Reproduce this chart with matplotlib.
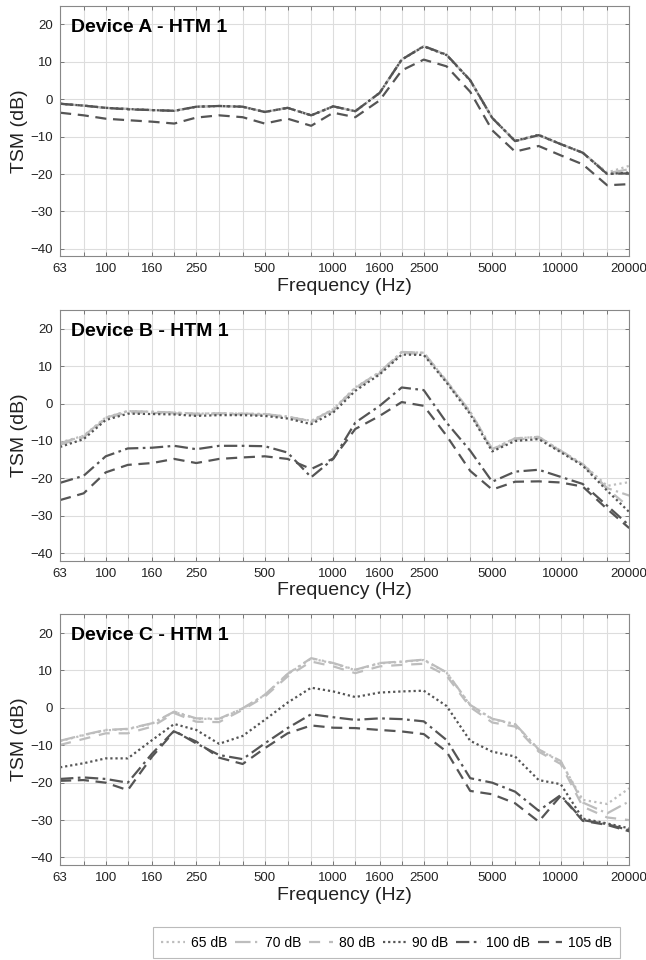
import numpy as np
import matplotlib

matplotlib.use("Agg")
import matplotlib.pyplot as plt

plt.rcParams["font.family"] = ["Liberation Sans", "DejaVu Sans"]

# third-octave band centre frequencies (Hz)
freqs = [63, 80, 100, 125, 160, 200, 250, 315, 400, 500, 630, 800, 1000,
         1250, 1600, 2000, 2500, 3150, 4000, 5000, 6300, 8000, 10000,
         12500, 16000, 20000]
tick_labels = [63, 100, 160, 250, 500, 1000, 1600, 2500, 5000, 10000, 20000]
levels = ["65 dB", "70 dB", "80 dB", "90 dB", "100 dB", "105 dB"]

# Device A
a_65 = [-1.2, -1.7, -2.3, -2.6, -2.9, -3.1, -2.0, -1.8, -2.0, -3.4, -2.3, -4.3, -1.9,
        -3.2, 1.7, 10.6, 14.2, 11.9, 5.1, -5.0, -11.2, -9.6, -12.0, -14.3, -19.6, -17.8]
a_70 = [-1.2, -1.7, -2.3, -2.6, -2.9, -3.1, -2.0, -1.8, -2.0, -3.4, -2.3, -4.3, -1.9,
        -3.2, 1.7, 10.6, 14.2, 11.9, 5.1, -5.0, -11.2, -9.6, -12.0, -14.3, -19.8, -18.7]
a_80 = [-1.2, -1.7, -2.3, -2.6, -2.9, -3.1, -2.0, -1.8, -2.0, -3.4, -2.3, -4.3, -1.9,
        -3.2, 1.7, 10.6, 14.2, 11.9, 5.1, -5.0, -11.2, -9.6, -12.0, -14.3, -20.0, -19.3]
a_90 = [-1.2, -1.7, -2.3, -2.6, -2.9, -3.1, -2.0, -1.8, -2.0, -3.4, -2.3, -4.3, -1.9,
        -3.2, 1.7, 10.6, 14.1, 11.8, 5.0, -5.0, -11.1, -9.5, -12.0, -14.3, -20.0, -19.6]
a_100 = [-1.2, -1.7, -2.3, -2.7, -2.9, -3.1, -2.0, -1.8, -2.0, -3.4, -2.3, -4.3, -1.9,
         -3.2, 1.7, 10.6, 14.2, 11.9, 5.1, -5.0, -11.2, -9.6, -12.0, -14.3, -20.0, -19.8]
a_105 = [-3.6, -4.3, -5.2, -5.6, -6.0, -6.5, -4.9, -4.3, -4.8, -6.5, -5.2, -7.1, -3.6,
         -4.8, -0.3, 7.7, 10.6, 8.8, 2.0, -8.3, -14.0, -12.5, -15.0, -17.4, -23.0, -22.7]

# Device B
b_65 = [-10.4, -8.6, -3.7, -2.0, -2.2, -2.4, -2.7, -2.6, -2.7, -2.8, -3.5, -4.6, -1.5,
        4.3, 8.4, 13.8, 13.6, 6.0, -2.2, -12.2, -9.3, -8.9, -12.6, -16.2, -22.0, -21.0]
b_70 = [-10.6, -8.7, -3.8, -2.0, -2.2, -2.4, -2.7, -2.6, -2.7, -2.8, -3.5, -4.7, -1.6,
        4.2, 8.4, 13.8, 13.6, 6.0, -2.2, -12.2, -9.3, -8.9, -12.6, -16.2, -22.6, -24.6]
b_80 = [-11.0, -9.0, -4.0, -2.3, -2.5, -2.6, -3.0, -2.8, -2.9, -3.0, -3.7, -5.0, -2.0,
        3.9, 8.1, 13.5, 13.3, 5.8, -2.5, -12.5, -9.6, -9.2, -12.8, -16.4, -22.8, -27.7]
b_90 = [-11.6, -9.5, -4.4, -2.7, -2.8, -2.9, -3.3, -3.1, -3.1, -3.3, -4.0, -5.5, -2.4,
        3.4, 7.8, 13.1, 13.0, 5.6, -2.8, -12.8, -10.0, -9.5, -13.0, -16.6, -23.3, -29.0]
b_100 = [-21.2, -19.3, -14.1, -12.0, -11.8, -11.3, -12.2, -11.3, -11.3, -11.4, -13.1, -19.7, -14.8,
         -5.1, -0.6, 4.3, 3.6, -5.1, -12.6, -20.9, -18.2, -17.7, -19.6, -21.5, -27.3, -32.6]
b_105 = [-25.8, -24.0, -18.4, -16.4, -15.9, -14.8, -15.9, -14.8, -14.4, -14.1, -14.8, -17.5, -14.7,
         -6.8, -3.3, 0.4, -0.6, -8.6, -18.0, -23.0, -20.9, -20.8, -21.1, -22.2, -28.2, -33.3]

# Device C
c_65 = [-8.9, -7.3, -6.0, -5.7, -4.2, -1.1, -2.9, -3.0, -0.2, 3.4, 9.0, 13.2, 11.9,
        10.1, 11.9, 12.3, 12.8, 9.4, 0.7, -3.0, -4.4, -11.2, -14.4, -24.6, -25.7, -21.5]
c_70 = [-8.8, -7.2, -5.9, -5.6, -4.1, -1.0, -2.8, -2.9, -0.1, 3.5, 9.1, 13.3, 12.0,
        10.2, 12.0, 12.4, 12.9, 9.5, 0.8, -2.9, -4.3, -11.1, -14.2, -25.3, -28.2, -25.0]
c_80 = [-9.9, -8.3, -6.8, -6.8, -5.0, -1.4, -3.7, -3.8, -0.5, 3.0, 8.4, 12.4, 11.1,
        9.3, 11.1, 11.5, 11.8, 8.6, 0.2, -3.9, -5.0, -11.7, -15.0, -26.4, -29.3, -30.0]
c_90 = [-15.9, -14.8, -13.5, -13.5, -8.6, -4.3, -5.9, -9.6, -7.5, -3.2, 1.4, 5.4, 4.4,
        2.9, 4.1, 4.4, 4.6, 0.5, -8.8, -11.7, -13.0, -19.3, -20.4, -29.6, -30.9, -32.2]
c_100 = [-19.0, -18.6, -19.0, -20.0, -12.2, -6.1, -9.5, -12.6, -13.7, -9.5, -5.4, -1.7, -2.5,
         -3.2, -2.8, -3.0, -3.6, -8.6, -18.8, -20.0, -22.4, -27.5, -23.3, -30.0, -31.1, -32.7]
c_105 = [-19.5, -19.3, -20.0, -22.0, -13.0, -6.3, -9.0, -13.3, -15.0, -10.8, -6.8, -4.7, -5.3,
         -5.4, -5.9, -6.3, -7.0, -11.7, -22.2, -23.1, -25.5, -30.4, -23.5, -30.2, -31.3, -33.0]

devices = [
    ("Device A - HTM 1", [a_65, a_70, a_80, a_90, a_100, a_105]),
    ("Device B - HTM 1", [b_65, b_70, b_80, b_90, b_100, b_105]),
    ("Device C - HTM 1", [c_65, c_70, c_80, c_90, c_100, c_105]),
]

light = "#bdbdbd"
dark = "#555555"
styles = [
    (light, (0, (1, 1.5))),
    (light, (0, (7, 2, 1, 2))),
    (light, (0, (5, 4))),
    (dark, (0, (1, 1.3))),
    (dark, (0, (6, 2, 1.2, 2))),
    (dark, (0, (5, 3))),
]

fig = plt.figure(figsize=(6.46, 9.6), dpi=100)
left, width, height = 0.093, 0.881, 0.261
bottoms = [0.733, 0.416, 0.099]

handles = []
for (title, series), bottom in zip(devices, bottoms):
    ax = fig.add_axes([left, bottom, width, height])
    handles = []
    for vals, (col, ls), lab in zip(series, styles, levels):
        (h,) = ax.plot(freqs, vals, color=col, linestyle=ls, linewidth=1.6, label=lab)
        handles.append(h)
    ax.set_xscale("log")
    ax.set_xlim(63, 20000)
    ax.set_ylim(-42, 25)
    ax.set_xticks(freqs)
    ax.set_xticklabels([str(f) if f in tick_labels else "" for f in freqs])
    ax.xaxis.set_minor_locator(matplotlib.ticker.NullLocator())
    ax.set_yticks([-40, -30, -20, -10, 0, 10, 20])
    ax.tick_params(direction="in", top=True, right=True, length=3, width=0.6,
                   colors="#666666", labelcolor="#222222", labelsize=9.5, pad=5)
    ax.grid(True, color="#dddddd", linewidth=0.8)
    ax.set_axisbelow(True)
    for sp in ax.spines.values():
        sp.set_color("#888888")
        sp.set_linewidth(0.8)
    ax.set_xlabel("Frequency (Hz)", fontsize=14, color="#222222", labelpad=2)
    ax.set_ylabel("TSM (dB)", fontsize=14, color="#222222", labelpad=2)
    ax.text(0.02, 0.915, title, transform=ax.transAxes, fontsize=14,
            fontweight="bold", va="center", ha="left")

leg = fig.legend(handles=handles, loc="center", bbox_to_anchor=(0.598, 0.018),
                 ncol=6, fontsize=10, frameon=True, fancybox=False,
                 handlelength=1.75, handletextpad=0.4, columnspacing=0.55,
                 borderpad=0.6, borderaxespad=0.0)
leg.get_frame().set_edgecolor("#aaaaaa")
leg.get_frame().set_linewidth(0.8)

plt.savefig("out.png", dpi=100)
